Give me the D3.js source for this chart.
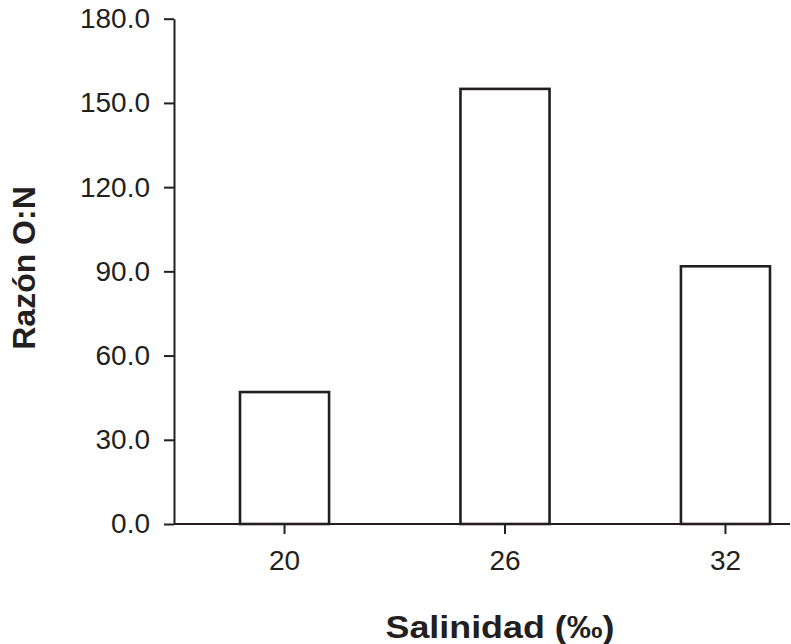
<!DOCTYPE html>
<html>
<head>
<meta charset="utf-8">
<script src="https://cdn.jsdelivr.net/npm/d3@7"></script>
<style>
  html, body { margin: 0; padding: 0; background: #fff; }
  svg { display: block; }
  text { font-family: "Liberation Sans", Arial, Helvetica, sans-serif; fill: #231f20; }
</style>
</head>
<body>
<svg id="chart" width="791" height="644"></svg>
<script>
const categories = ["20", "26", "32"];
const values = [47.0, 155.0, 91.8];
const yTicks = [0, 30, 60, 90, 120, 150, 180];
const xTitle = "Salinidad (‰)";
const yTitle = "Razón O:N";

const W = 791, H = 644;
const ink = "#231f20";
const plot = { left: 174, right: 790, top: 18.7, bottom: 524 };

const svg = d3.select("#chart");

const y = d3.scaleLinear().domain([0, 180]).range([plot.bottom, plot.top]);
const x = d3.scaleBand().domain(categories).range([240, 770]).paddingInner(0.596).paddingOuter(0);

// bars
svg.append("g").selectAll("rect").data(categories).join("rect")
  .attr("x", d => x(d))
  .attr("y", (d, i) => y(values[i]))
  .attr("width", x.bandwidth())
  .attr("height", (d, i) => y(0) - y(values[i]))
  .attr("fill", "#fff")
  .attr("stroke", ink)
  .attr("stroke-width", 2.6);

// y axis
const yAxis = svg.append("g")
  .attr("transform", `translate(${plot.left},0)`)
  .call(d3.axisLeft(y).tickValues(yTicks).tickFormat(d3.format(".1f")).tickSize(10).tickPadding(14).tickSizeOuter(0));
yAxis.select(".domain").attr("stroke", ink).attr("stroke-width", 2);
yAxis.selectAll(".tick line").attr("stroke", ink).attr("stroke-width", 2);
yAxis.selectAll(".tick text").attr("font-size", 28).attr("fill", ink).style("font-family", '"Liberation Sans", Arial, sans-serif');

// x axis
const xAxis = svg.append("g")
  .attr("transform", `translate(0,${plot.bottom})`)
  .call(d3.axisBottom(x).tickSize(10).tickPadding(16).tickSizeOuter(0));
xAxis.select(".domain").attr("d", `M${plot.left},0H${plot.right}`).attr("stroke", ink).attr("stroke-width", 2);
xAxis.selectAll(".tick line").attr("stroke", ink).attr("stroke-width", 2);
xAxis.selectAll(".tick text").attr("font-size", 28).attr("fill", ink).style("font-family", '"Liberation Sans", Arial, sans-serif');

// titles
svg.append("text")
  .attr("x", 500).attr("y", 638)
  .attr("text-anchor", "middle")
  .attr("font-size", 32).attr("font-weight", "bold")
  .attr("textLength", 229).attr("lengthAdjust", "spacingAndGlyphs")
  .text(xTitle);

svg.append("text")
  .attr("transform", `translate(35,268) rotate(-90)`)
  .attr("text-anchor", "middle")
  .attr("font-size", 32).attr("font-weight", "bold")
  .text(yTitle);
</script>
</body>
</html>
